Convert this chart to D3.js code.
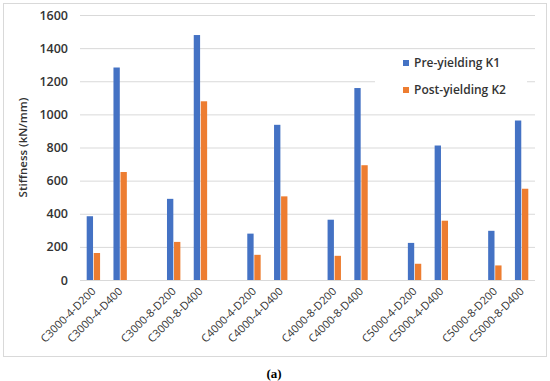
<!DOCTYPE html>
<html>
<head>
<meta charset="utf-8">
<script src="https://cdn.jsdelivr.net/npm/d3@7"></script>
<style>
  body { margin: 0; background: #fff; }
  svg { display: block; font-family: "Open Sans", sans-serif; }
</style>
</head>
<body>
<div id="chart"></div>
<script>
// categories (empty strings are the spacer slots between pairs)
const categories = [
  "C3000-4-D200", "C3000-4-D400", "",
  "C3000-8-D200", "C3000-8-D400", "",
  "C4000-4-D200", "C4000-4-D400", "",
  "C4000-8-D200", "C4000-8-D400", "",
  "C5000-4-D200", "C5000-4-D400", "",
  "C5000-8-D200", "C5000-8-D400"
];
const preYieldK1 = [385, 1283, null, 490, 1479, null, 280, 937, null, 364, 1159, null, 224, 812, null, 297, 963];
const postYieldK2 = [163, 652, null, 230, 1079, null, 152, 505, null, 146, 693, null, 98, 358, null, 88, 551];
const yTicks = [0, 200, 400, 600, 800, 1000, 1200, 1400, 1600];
const seriesNames = ["Pre-yielding K1", "Post-yielding K2"];
const seriesColors = ["#4472C4", "#ED7D31"];

const width = 550, height = 381;
const margin = {top: 15, right: 15, bottom: 101, left: 80};

const svg = d3.select("#chart").append("svg")
    .attr("width", width)
    .attr("height", height);

// outer frame
svg.append("rect")
    .attr("x", 3.5).attr("y", 3.5)
    .attr("width", 543).attr("height", 353)
    .attr("fill", "#fff")
    .attr("stroke", "#d9d9d9");

const x = d3.scaleBand()
    .domain(d3.range(categories.length))
    .range([margin.left, width - margin.right]);

const x1 = d3.scaleBand()
    .domain([0, 1])
    .range([0, x.bandwidth()])
    .paddingInner(0.1)
    .paddingOuter(0.95);

const y = d3.scaleLinear()
    .domain([0, 1600])
    .range([height - margin.bottom, margin.top]);

// gridlines
const grid = svg.append("g")
    .call(d3.axisLeft(y).tickValues(yTicks).tickSize(-(width - margin.left - margin.right)).tickFormat(""))
    .attr("transform", `translate(${margin.left},0)`);
grid.select(".domain").remove();
grid.selectAll("line").attr("stroke", "#d9d9d9");

// y tick labels
const yAxis = svg.append("g")
    .attr("transform", `translate(${margin.left - 12},0)`)
    .call(d3.axisLeft(y).tickValues(yTicks).tickSize(0).tickPadding(0).tickFormat(d3.format("d")));
yAxis.select(".domain").remove();
yAxis.selectAll("text")
    .attr("font-family", "Open Sans, sans-serif")
    .attr("font-size", 12.5)
    .attr("font-weight", 600)
    .attr("fill", "#333");

// y title
svg.append("text")
    .attr("transform", `translate(27,${(margin.top + height - margin.bottom) / 2}) rotate(-90)`)
    .attr("text-anchor", "middle")
    .attr("font-size", 11.5)
    .attr("font-weight", 600)
    .attr("fill", "#333")
    .text("Stiffness (kN/mm)");

// bars
const data = categories.map((c, i) => ({i, vals: [preYieldK1[i], postYieldK2[i]]}));
const groups = svg.append("g")
    .selectAll("g")
    .data(data.filter(d => d.vals[0] != null))
    .join("g")
    .attr("transform", d => `translate(${x(d.i)},0)`);

groups.selectAll("rect")
    .data(d => d.vals.map((v, k) => ({v, k})))
    .join("rect")
    .attr("x", d => x1(d.k))
    .attr("width", x1.bandwidth())
    .attr("y", d => y(d.v))
    .attr("height", d => y(0) - y(d.v))
    .attr("fill", d => seriesColors[d.k]);

// x labels
svg.append("g")
    .selectAll("text")
    .data(categories.map((c, i) => ({c, i})).filter(d => d.c))
    .join("text")
    .attr("transform", d => `translate(${x(d.i) + x.bandwidth() / 2 + 3},${y(0) + 12}) rotate(-45)`)
    .attr("text-anchor", "end")
    .attr("font-size", 11)
    .attr("fill", "#333")
    .text(d => d.c);

// legend
const legend = svg.append("g").attr("transform", "translate(375,50)");
legend.append("rect")
    .attr("width", 152).attr("height", 62)
    .attr("fill", "#fff");
const li = legend.selectAll("g")
    .data(seriesNames)
    .join("g")
    .attr("transform", (d, i) => `translate(28,${13 + i * 27})`);
li.append("rect")
    .attr("x", 0).attr("y", -3)
    .attr("width", 6).attr("height", 6)
    .attr("fill", (d, i) => seriesColors[i]);
li.append("text")
    .attr("x", 11)
    .attr("dy", "0.35em")
    .attr("font-size", 12)
    .attr("font-weight", 600)
    .attr("fill", "#333")
    .text(d => d);

// caption
svg.append("text")
    .attr("x", 274).attr("y", 378)
    .attr("text-anchor", "middle")
    .attr("font-family", "Liberation Serif, serif")
    .attr("font-size", 13)
    .attr("font-weight", "bold")
    .text("(a)");
</script>
</body>
</html>
